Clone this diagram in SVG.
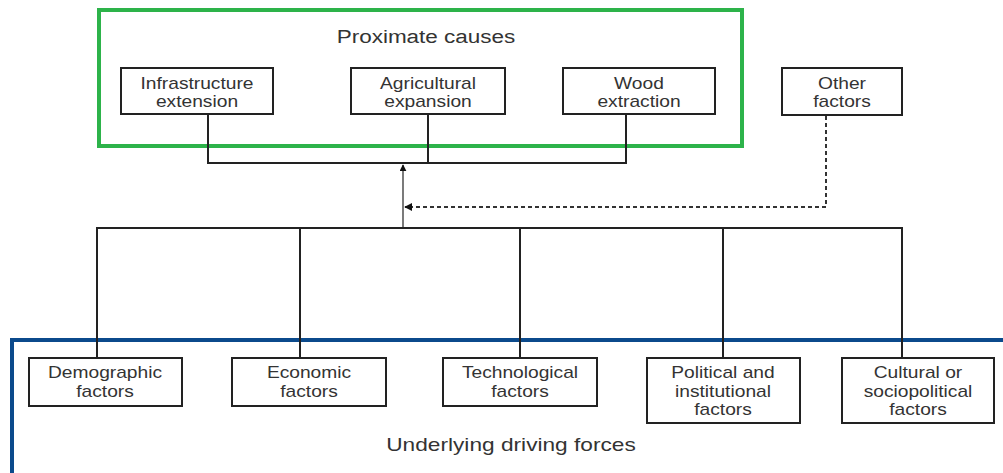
<svg xmlns="http://www.w3.org/2000/svg" width="1003" height="473" viewBox="0 0 1003 473">
<style>
.box{fill:#fff;stroke:#222;stroke-width:2}
.t{font-family:"Liberation Sans",Arial,sans-serif;font-size:16px;fill:#333;text-anchor:middle}
.h{font-family:"Liberation Sans",Arial,sans-serif;font-size:18px;fill:#333;text-anchor:middle}
.ln{fill:none;stroke:#222;stroke-width:2}
.thin{fill:none;stroke:#333;stroke-width:1.3}
.dash{fill:none;stroke:#333;stroke-width:2;stroke-dasharray:4 3}
</style>
<defs>
<marker id="ah" viewBox="0 0 10 10" refX="9" refY="5" markerWidth="7" markerHeight="7" markerUnits="userSpaceOnUse" orient="auto">
<path d="M0,0 L10,5 L0,10 z" fill="#111"/>
</marker>
<marker id="ah2" viewBox="0 0 10 10" refX="9" refY="5" markerWidth="8" markerHeight="8" markerUnits="userSpaceOnUse" orient="auto">
<path d="M0,0 L10,5 L0,10 z" fill="#111"/>
</marker>
</defs>
<rect width="1003" height="473" fill="#fff"/>

<g id="proximate-causes">
<rect x="99" y="10" width="643" height="136" fill="none" stroke="#2db34a" stroke-width="4"/>
<text class="h" transform="translate(426,43) scale(1.25,1)">Proximate causes</text>
</g>

<g id="underlying-driving-forces">
<rect x="12" y="340" width="1010" height="160" fill="none" stroke="#0b4a8c" stroke-width="4"/>
<text class="h" transform="translate(511,451) scale(1.26,1)">Underlying driving forces</text>
</g>

<g id="connectors">
<path class="ln" d="M208,114 V163 M428,114 V163 M626,114 V163 M207,163 H627"/>
<path class="thin" d="M403,228 V165" marker-end="url(#ah)"/>
<path class="dash" d="M826,116 V207 H405" marker-end="url(#ah2)"/>
<path class="ln" d="M97,358 V228 H902 V358 M300,228 V358 M520,228 V358 M723,228 V358"/>
</g>

<g id="infrastructure-extension">
<rect class="box" x="121" y="68" width="152" height="46"/>
<text class="t" transform="translate(197,89) scale(1.2,1)">Infrastructure</text>
<text class="t" transform="translate(197,107) scale(1.2,1)">extension</text>
</g>
<g id="agricultural-expansion">
<rect class="box" x="351" y="68" width="154" height="46"/>
<text class="t" transform="translate(428,89) scale(1.2,1)">Agricultural</text>
<text class="t" transform="translate(428,107) scale(1.2,1)">expansion</text>
</g>
<g id="wood-extraction">
<rect class="box" x="563" y="68" width="152" height="46"/>
<text class="t" transform="translate(639,89) scale(1.2,1)">Wood</text>
<text class="t" transform="translate(639,107) scale(1.2,1)">extraction</text>
</g>
<g id="other-factors">
<rect class="box" x="782" y="68" width="120" height="47"/>
<text class="t" transform="translate(842,89) scale(1.2,1)">Other</text>
<text class="t" transform="translate(842,107) scale(1.2,1)">factors</text>
</g>

<g id="demographic-factors">
<rect class="box" x="29" y="358" width="153" height="48"/>
<text class="t" transform="translate(105,378) scale(1.2,1)">Demographic</text>
<text class="t" transform="translate(105,397) scale(1.2,1)">factors</text>
</g>
<g id="economic-factors">
<rect class="box" x="232" y="358" width="154" height="48"/>
<text class="t" transform="translate(309,378) scale(1.2,1)">Economic</text>
<text class="t" transform="translate(309,397) scale(1.2,1)">factors</text>
</g>
<g id="technological-factors">
<rect class="box" x="443" y="358" width="154" height="48"/>
<text class="t" transform="translate(520,378) scale(1.2,1)">Technological</text>
<text class="t" transform="translate(520,397) scale(1.2,1)">factors</text>
</g>
<g id="political-institutional-factors">
<rect class="box" x="647" y="358" width="153" height="65"/>
<text class="t" transform="translate(723,378) scale(1.2,1)">Political and</text>
<text class="t" transform="translate(723,397) scale(1.2,1)">institutional</text>
<text class="t" transform="translate(723,415) scale(1.2,1)">factors</text>
</g>
<g id="cultural-sociopolitical-factors">
<rect class="box" x="842" y="358" width="152" height="65"/>
<text class="t" transform="translate(918,378) scale(1.2,1)">Cultural or</text>
<text class="t" transform="translate(918,397) scale(1.2,1)">sociopolitical</text>
<text class="t" transform="translate(918,415) scale(1.2,1)">factors</text>
</g>
</svg>
